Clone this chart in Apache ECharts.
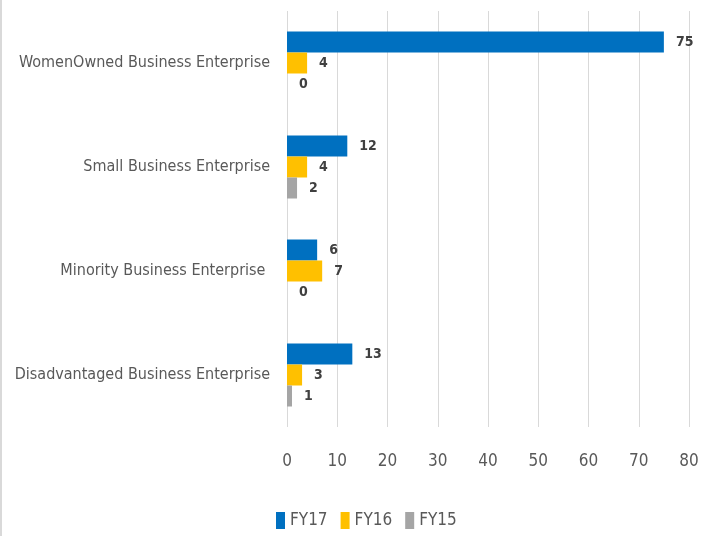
<!DOCTYPE html>
<html>
<head>
<meta charset="utf-8">
<script src="https://cdn.jsdelivr.net/npm/echarts@6/dist/echarts.min.js"></script>
<style>
html,body{margin:0;padding:0;background:#fff;}
#main{width:713px;height:536px;border-left:2px solid #d9d9d9;}
</style>
</head>
<body>
<div id="main"></div>
<script>
var categories = ['WomenOwned Business Enterprise', 'Small Business Enterprise', 'Minority Business Enterprise ', 'Disadvantaged Business Enterprise'];
var seriesNames = ['FY17', 'FY16', 'FY15'];
var fy17 = [75, 12, 6, 13];
var fy16 = [4, 4, 7, 3];
var fy15 = [0, 2, 0, 1];
var xTicks = [0, 10, 20, 30, 40, 50, 60, 70, 80];

var FONT = "'Liberation Sans Narrow', 'DejaVu Sans Condensed', 'Roboto Condensed', sans-serif";
var colors = ['#0070c0', '#ffc000', '#a5a5a5'];
var values = [fy17, fy16, fy15];

var chart = echarts.init(document.getElementById('main'));
chart.setOption({
  animation: false,
  color: colors,
  textStyle: { fontFamily: FONT },
  grid: { left: 285, right: 26, top: 11, bottom: 109, containLabel: false, outerBoundsMode: 'none' },
  legend: {
    data: seriesNames,
    left: 269, top: 507,
    icon: 'rect', itemWidth: 9, itemHeight: 17, itemGap: 13,
    textStyle: { fontFamily: FONT, fontSize: 17, color: '#595959' }
  },
  xAxis: {
    type: 'value', min: xTicks[0], max: xTicks[xTicks.length - 1], interval: 10,
    axisLine: { show: false }, axisTick: { show: false },
    splitLine: { show: true, lineStyle: { color: '#d9d9d9', width: 1 } },
    axisLabel: { margin: 26, fontSize: 17, color: '#595959', fontFamily: FONT }
  },
  yAxis: {
    type: 'category', data: categories, inverse: true,
    axisLine: { show: false }, axisTick: { show: false },
    axisLabel: { margin: 17, fontSize: 16, color: '#595959', fontFamily: FONT }
  },
  series: seriesNames.map(function (n, i) {
    return {
      name: n, type: 'bar', data: values[i],
      barWidth: 21, barGap: '0%',
      itemStyle: { color: colors[i] },
      label: { show: true, position: 'right', distance: 12, fontSize: 14, fontWeight: 'bold', color: '#404040', fontFamily: FONT }
    };
  })
});
</script>
</body>
</html>
